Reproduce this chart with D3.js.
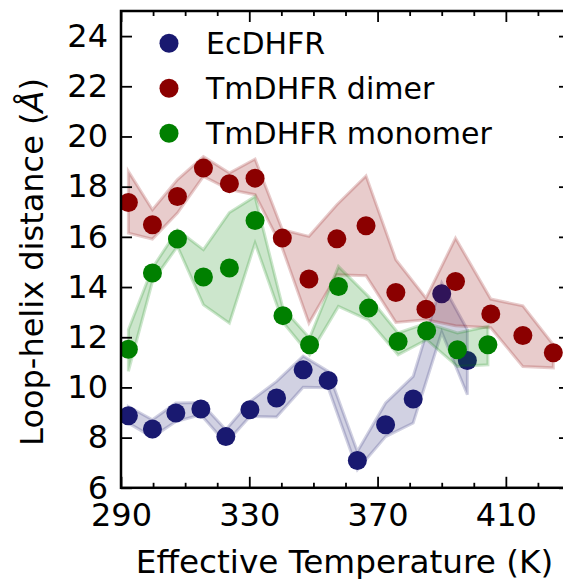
<!DOCTYPE html>
<html lang="en">
<head>
    <meta charset="UTF-8">
    <title>Loop-helix distance</title>
    <script src="https://d3js.org/d3.v7.min.js"></script>
    <style>
        body { margin: 0; background: #fff; }
        text { font-family: "DejaVu Sans", sans-serif; fill: #000; }
        .axis line { stroke: #000; stroke-width: 1.8; }
        .axis path { display: none; }
    </style>
</head>
<body>

<script>
    // series names and colours
    let seriesNames = ["EcDHFR", "TmDHFR dimer", "TmDHFR monomer"];
    let seriesColors = ["#191970", "#8b0000", "#008000"];

    // EcDHFR
    let ecTemp  = [292.3, 299.8, 307.1, 314.9, 322.7, 330.2, 338.5, 346.8, 354.6, 363.7, 372.5, 381.1, 390.0, 398.0];
    let ecMean  = [8.87, 8.34, 8.98, 9.14, 8.04, 9.11, 9.58, 10.70, 10.28, 7.09, 8.51, 9.54, 13.73, 11.07];
    let ecHigh  = [9.24, 8.71, 9.38, 9.40, 8.31, 9.44, 10.24, 11.25, 10.64, 7.45, 9.38, 10.44, 14.16, 12.30];
    let ecLow   = [8.58, 8.02, 8.64, 8.91, 7.78, 8.84, 8.82, 10.01, 9.99, 6.72, 8.04, 8.58, 12.20, 9.71];

    // TmDHFR dimer
    let dimTemp = [292.3, 299.8, 307.6, 315.7, 323.8, 331.8, 340.3, 348.6, 357.3, 366.4, 375.7, 385.1, 394.3, 405.3, 415.3, 424.8];
    let dimMean = [17.37, 16.48, 17.61, 18.74, 18.12, 18.34, 15.95, 14.32, 15.92, 16.44, 13.78, 13.12, 14.22, 12.93, 12.07, 11.38];
    let dimHigh = [18.61, 17.08, 18.28, 19.20, 18.54, 19.10, 16.28, 16.02, 17.28, 18.43, 15.09, 13.56, 15.95, 13.52, 13.25, 11.70];
    let dimLow  = [16.15, 15.91, 16.95, 18.41, 17.88, 17.68, 15.55, 12.56, 14.49, 14.45, 12.59, 12.70, 12.46, 12.38, 10.83, 10.78];

    // TmDHFR monomer
    let monTemp = [292.3, 299.8, 307.6, 315.7, 323.8, 331.8, 340.5, 348.8, 357.8, 367.2, 376.4, 385.3, 394.9, 404.4];
    let monMean = [11.52, 14.56, 15.91, 14.40, 14.76, 16.65, 12.86, 11.70, 14.02, 13.16, 11.83, 12.26, 11.50, 11.70];
    let monHigh = [12.30, 14.76, 16.28, 15.49, 16.97, 17.61, 13.15, 11.97, 14.82, 13.62, 12.17, 12.56, 12.17, 12.43];
    let monLow  = [10.64, 14.22, 15.62, 13.29, 12.56, 15.75, 12.60, 11.30, 13.23, 12.68, 11.30, 11.90, 10.83, 10.90];

    let xMajor = [290, 330, 370, 410];
    let xMinor = [300, 310, 320, 340, 350, 360, 380, 390, 400, 420];
    let yMajor = [6, 8, 10, 12, 14, 16, 18, 20, 22, 24];

    let pLeft = 121, pRight = 570, pTop = 11, pBottom = 487.8;

    let x = d3.scaleLinear().domain([290, 430]).range([pLeft, pRight]);
    let y = d3.scaleLinear().domain([6, 25]).range([pBottom, pTop]);

    let svg = d3.select("body").append("svg")
        .attr("width", 563)
        .attr("height", 579);

    svg.append("defs").append("clipPath")
        .attr("id", "plotClip")
        .append("rect")
        .attr("x", pLeft).attr("y", pTop)
        .attr("width", pRight - pLeft).attr("height", pBottom - pTop);

    let plot = svg.append("g").attr("clip-path", "url(#plotClip)");

    function makeRows(t, m, hi, lo) {
        return t.map(function (v, i) {
            return {t: v, mean: m[i], hi: hi[i], lo: lo[i]};
        });
    }

    let series = [
        makeRows(ecTemp, ecMean, ecHigh, ecLow),
        makeRows(dimTemp, dimMean, dimHigh, dimLow),
        makeRows(monTemp, monMean, monHigh, monLow)
    ];

    let area = d3.area()
        .x(function (d) { return x(d.t); })
        .y0(function (d) { return y(d.lo); })
        .y1(function (d) { return y(d.hi); });

    series.forEach(function (rows, i) {
        plot.append("path")
            .datum(rows)
            .attr("d", area)
            .style("fill", seriesColors[i])
            .style("fill-opacity", 0.2)
            .style("stroke", seriesColors[i])
            .style("stroke-opacity", 0.2)
            .style("stroke-width", 3)
            .style("stroke-linejoin", "miter");

        plot.append("g").selectAll("circle").data(rows)
            .enter()
            .append("circle")
            .attr("cx", function (d) { return x(d.t); })
            .attr("cy", function (d) { return y(d.mean); })
            .attr("r", 9.5)
            .style("fill", seriesColors[i]);
    });

    // axes, ticks pointing inward
    svg.append("g").attr("class", "axis")
        .attr("transform", `translate(0,${pBottom})`)
        .call(d3.axisBottom(x).tickValues(xMajor).tickSize(-11).tickPadding(15).tickFormat(d3.format("d")))
        .selectAll("text").style("font-size", "32px");
    svg.append("g").attr("class", "axis")
        .attr("transform", `translate(0,${pBottom})`)
        .call(d3.axisBottom(x).tickValues(xMinor).tickSize(-5).tickFormat(""));
    svg.append("g").attr("class", "axis")
        .attr("transform", `translate(0,${pTop})`)
        .call(d3.axisTop(x).tickValues(xMajor).tickSize(-11).tickFormat(""));
    svg.append("g").attr("class", "axis")
        .attr("transform", `translate(0,${pTop})`)
        .call(d3.axisTop(x).tickValues(xMinor).tickSize(-5).tickFormat(""));

    svg.append("g").attr("class", "axis")
        .attr("transform", `translate(${pLeft},0)`)
        .call(d3.axisLeft(y).tickValues(yMajor).tickSize(-11).tickPadding(13).tickFormat(d3.format("d")))
        .selectAll("text").style("font-size", "32px");
    svg.append("g").attr("class", "axis")
        .attr("transform", `translate(${pRight},0)`)
        .call(d3.axisRight(y).tickValues(yMajor).tickSize(-11).tickFormat(""));

    svg.selectAll(".axis text").style("font-family", "'DejaVu Sans', sans-serif").style("fill", "#000");

    // frame
    svg.append("rect")
        .attr("x", pLeft).attr("y", pTop)
        .attr("width", pRight - pLeft).attr("height", pBottom - pTop)
        .style("fill", "none")
        .style("stroke", "#000")
        .style("stroke-width", 2.5);

    // axis labels
    svg.append("text")
        .attr("x", 344.5)
        .attr("y", 573)
        .attr("text-anchor", "middle")
        .style("font-size", "32.7px")
        .text("Effective Temperature (K)");

    let yl = svg.append("text")
        .attr("transform", "translate(43,262) rotate(-90)")
        .attr("text-anchor", "middle")
        .style("font-size", "32px");
    yl.append("tspan").text("Loop-helix distance (");
    yl.append("tspan").style("font-style", "italic").text("\u00C5");
    yl.append("tspan").text(")");

    // legend
    let legend = svg.append("g").selectAll("g").data(seriesNames)
        .enter()
        .append("g")
        .attr("transform", function (d, i) { return `translate(169,${43.3 + i * 45})`; });
    legend.append("circle")
        .attr("r", 9.5)
        .style("fill", function (d, i) { return seriesColors[i]; });
    legend.append("text")
        .attr("x", 37)
        .attr("y", 10.5)
        .style("font-size", "30px")
        .text(function (d) { return d; });
</script>

</body>
</html>
